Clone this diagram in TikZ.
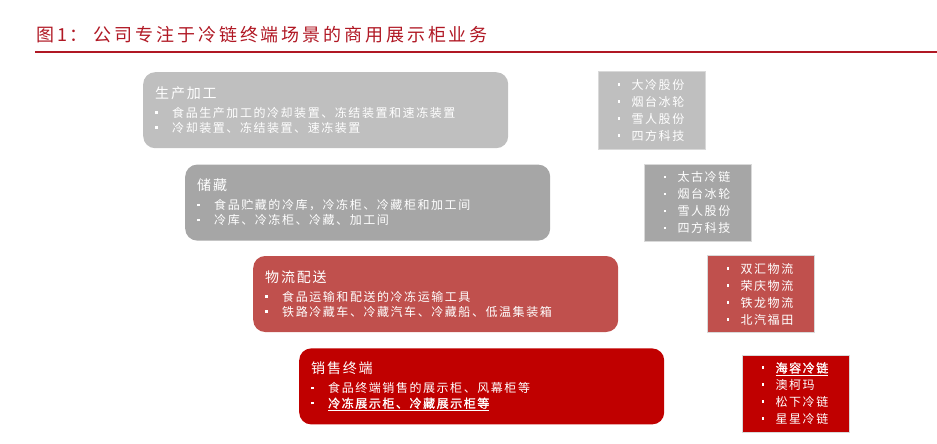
\documentclass[tikz,border=0pt]{standalone}
\usepackage{fontspec}
\setmainfont{Noto Sans CJK SC}
\newfontfamily\headfont[LetterSpace=16]{Noto Sans CJK SC}
\newfontfamily\bodyfont[LetterSpace=13]{Noto Sans CJK SC}
\newfontfamily\markfont[LetterSpace=13,FakeBold=1.5]{Noto Sans CJK SC}
\usetikzlibrary{positioning}
\definecolor{titlered}{RGB}{176,24,36}
\definecolor{graylight}{RGB}{191,191,191}
\definecolor{graydark}{RGB}{166,166,166}
\definecolor{softred}{RGB}{192,80,77}
\definecolor{deepred}{RGB}{192,0,0}
\newcommand{\bul}{\makebox[17pt][l]{\raisebox{3.5pt}{\rule{2.6pt}{2.6pt}}}}
\newcommand{\rbul}{\makebox[14pt][l]{\raisebox{3.5pt}{\rule{2.6pt}{2.6pt}}}}
\newcommand{\stagename}[1]{{\fontsize{14}{16}\selectfont #1}}
\tikzset{
  stagebox/.style={rounded corners=12pt, text=white, align=left,
    text width=341pt, inner xsep=12pt, minimum height=76pt,
    font=\bodyfont\fontsize{12}{15}\selectfont},
  firmbox/.style={text=white, align=left, draw=white!85!black, line width=0.4pt,
    text width=69pt, inner xsep=19pt, minimum height=77pt,
    font=\bodyfont\fontsize{12}{17}\selectfont}
}

\begin{document}
\begin{tikzpicture}[x=1pt,y=-1pt]
	\useasboundingbox (0,0) rectangle (937,444);
	
	\node [anchor=west, text=titlered, font=\headfont\fontsize{18}{20}\selectfont, inner sep=0pt] at (36,35) (title) {图1：\hspace{6pt}公司专注于冷链终端场景的商用展示柜业务};
	\coordinate (rule1) at (35,52); \coordinate (rule2) at (937,52);
	\draw [titlered, line width=1.8pt] (rule1) -- (rule2);
	
	\node [stagebox, fill=graylight, anchor=north west] at (143,72) (s1) {\stagename{生产加工}\\[4pt] \bul 食品生产加工的冷却装置、冻结装置和速冻装置\\ \bul 冷却装置、冻结装置、速冻装置};
	\node [stagebox, fill=graydark, below=16pt of s1.south west, anchor=north west, xshift=42pt] (s2) {\stagename{储藏}\\[4pt] \bul 食品贮藏的冷库，冷冻柜、冷藏柜和加工间\\ \bul 冷库、冷冻柜、冷藏、加工间};
	\node [stagebox, fill=softred, below=15pt of s2.south west, anchor=north west, xshift=68pt] (s3) {\stagename{物流配送}\\[4pt] \bul 食品运输和配送的冷冻运输工具\\ \bul 铁路冷藏车、冷藏汽车、冷藏船、低温集装箱};
	\node [stagebox, fill=deepred, below=16pt of s3.south west, anchor=north west, xshift=46pt] (s4) {\stagename{销售终端}\\[4pt] \bul 食品终端销售的展示柜、风幕柜等\\ \bul {\markfont\underline{冷冻展示柜、冷藏展示柜等}}};
	
	\node [firmbox, fill=graylight, right=90pt of s1] (c1) {\rbul 大冷股份\\ \rbul 烟台冰轮\\ \rbul 雪人股份\\ \rbul 四方科技};
	\node [firmbox, fill=graydark, right=94pt of s2] (c2) {\rbul 太古冷链\\ \rbul 烟台冰轮\\ \rbul 雪人股份\\ \rbul 四方科技};
	\node [firmbox, fill=softred, right=89pt of s3] (c3) {\rbul 双汇物流\\ \rbul 荣庆物流\\ \rbul 铁龙物流\\ \rbul 北汽福田};
	\node [firmbox, fill=deepred, right=78pt of s4, yshift=-7pt] (c4) {\rbul {\markfont\underline{海容冷链}}\\ \rbul 澳柯玛\\ \rbul 松下冷链\\ \rbul 星星冷链};
\end{tikzpicture}
\end{document}
